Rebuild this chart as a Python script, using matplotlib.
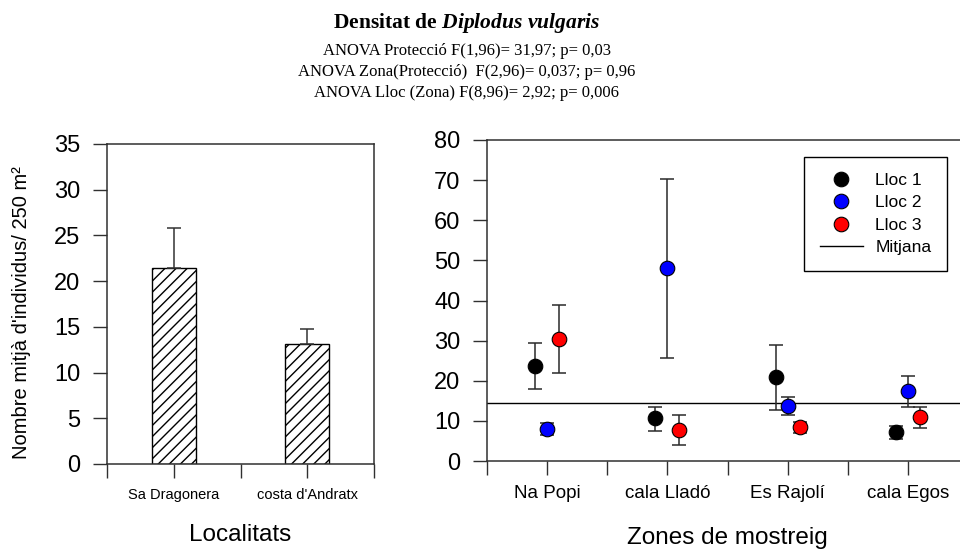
import numpy as np
import matplotlib
matplotlib.use("Agg")
import matplotlib.pyplot as plt

plt.rcParams["font.family"] = ["Liberation Sans", "DejaVu Sans"]
plt.rcParams["mathtext.fontset"] = "custom"
plt.rcParams["mathtext.it"] = "Liberation Serif:bold:italic"
plt.rcParams["hatch.linewidth"] = 1.0

# left panel: mean density per locality (bars, upper SE only)
localitats = ["Sa Dragonera", "costa d'Andratx"]
dens_loc = [21.4, 13.1]
dens_loc_up = [25.8, 14.8]

# right panel: mean per zone and site, with lower / upper error limits
zones = ["Na Popi", "cala Lladó", "Es Rajolí", "cala Egos"]
llocs = ["Lloc 1", "Lloc 2", "Lloc 3"]
lloc_colors = ["black", "blue", "red"]
lloc_mean = [
    [23.7, 10.6, 21.0, 7.2],
    [8.0, 48.2, 13.7, 17.4],
    [30.4, 7.8, 8.4, 10.9],
]
lloc_low = [
    [17.9, 7.6, 12.7, 5.6],
    [6.6, 25.7, 11.4, 13.5],
    [21.9, 4.0, 6.9, 8.2],
]
lloc_high = [
    [29.3, 13.5, 29.0, 8.7],
    [9.5, 70.4, 16.0, 21.1],
    [39.0, 11.5, 9.8, 13.4],
]
mitjana = 14.4

W, H = 960, 553
fig = plt.figure(figsize=(W / 100, H / 100), dpi=100)

spine_col = "#303030"


def style_axes(ax, nx):
    for s in ["top", "left", "bottom", "right"]:
        ax.spines[s].set_color(spine_col)
        ax.spines[s].set_linewidth(1.1)
    ax.tick_params(axis="both", direction="out", length=10, width=1.0,
                   color=spine_col)
    ax.tick_params(axis="y", labelsize=17, pad=9)
    ax.set_xlim(0, nx)
    ax.set_xticks(np.arange(0, nx + 1))


# ---------- left panel ----------
ax1 = fig.add_axes([107 / W, 1 - 464 / H, 267 / W, 320 / H])
style_axes(ax1, 4)
xpos = np.arange(len(localitats)) * 2 + 1
ax1.bar(xpos, dens_loc, width=0.66, color="white", edgecolor="black",
        linewidth=1.0, hatch="///", zorder=2)
up = np.array(dens_loc_up) - np.array(dens_loc)
ax1.errorbar(xpos, dens_loc, yerr=[np.zeros(len(up)), up], fmt="none",
             ecolor="#333333", elinewidth=1.1, capsize=5, capthick=1.1,
             zorder=3)
ax1.set_ylim(0, 35)
ax1.set_yticks(np.arange(0, 36, 5))
labels1 = [""] * 5
for i, name in enumerate(localitats):
    labels1[2 * i + 1] = name
ax1.set_xticklabels(labels1, fontsize=10.5)
ax1.tick_params(axis="x", pad=7)
ax1.set_xlabel("Localitats", fontsize=17.5)
ax1.xaxis.set_label_coords(0.5, -0.222)
ax1.xaxis.label.set_va("center")

fig.text(22 / W, 1 - 313 / H, "Nombre mitjà d'individus/ 250 m²",
         rotation=90, ha="center", va="center", fontsize=14.5)

# ---------- right panel ----------
ax2 = fig.add_axes([487 / W, 1 - 461 / H, 481 / W, 321 / H])
style_axes(ax2, 8)
zpos = np.arange(len(zones)) * 2 + 1
offsets = [-0.2, 0.0, 0.2]
handles = []
for k in range(len(llocs)):
    m = np.array(lloc_mean[k])
    lo = m - np.array(lloc_low[k])
    hi = np.array(lloc_high[k]) - m
    ax2.errorbar(zpos + offsets[k], m, yerr=[lo, hi], fmt="none",
                 ecolor="#2a2a2a", elinewidth=1.1, capsize=5, capthick=1.1,
                 zorder=2)
    h, = ax2.plot(zpos + offsets[k], m, "o", color=lloc_colors[k],
                  markersize=10.5, markeredgecolor="black",
                  markeredgewidth=0.8, linestyle="none", zorder=3,
                  label=llocs[k])
    handles.append(h)
hm = ax2.axhline(mitjana, color="black", linewidth=1.0, zorder=1,
                 label="Mitjana")
handles.append(hm)
ax2.set_ylim(0, 80)
ax2.set_yticks(np.arange(0, 81, 10))
labels2 = [""] * 9
for i, name in enumerate(zones):
    labels2[2 * i + 1] = name
ax2.set_xticklabels(labels2, fontsize=13.5)
ax2.tick_params(axis="x", pad=7)
ax2.set_xlabel("Zones de mostreig", fontsize=17.5)
ax2.xaxis.set_label_coords(0.5, -0.24)
ax2.xaxis.label.set_va("center")

leg = ax2.legend(handles=handles, loc="upper right",
                 bbox_to_anchor=(947 / W, 1 - 157 / H),
                 bbox_transform=fig.transFigure, borderaxespad=0,
                 fontsize=12.5, frameon=True, fancybox=False,
                 edgecolor="black", framealpha=1, borderpad=0.9,
                 labelspacing=0.42, handlelength=2.5, handletextpad=0.7)
leg.get_frame().set_linewidth(1.0)

# ---------- title block ----------
tx = 467 / W
fig.text(tx, 1 - 28 / H, r"Densitat de $Diplodus\ vulgaris$",
         ha="center", va="baseline", fontsize=15.5, fontweight="bold",
         family="Liberation Serif")
anova = [
    "ANOVA Protecció F(1,96)= 31,97; p= 0,03",
    "ANOVA Zona(Protecció)  F(2,96)= 0,037; p= 0,96",
    "ANOVA Lloc (Zona) F(8,96)= 2,92; p= 0,006",
]
for i, line in enumerate(anova):
    fig.text(tx, 1 - (55 + 21 * i) / H, line, ha="center", va="baseline",
             fontsize=12, family="Liberation Serif")

fig.savefig("out.png", dpi=100)
